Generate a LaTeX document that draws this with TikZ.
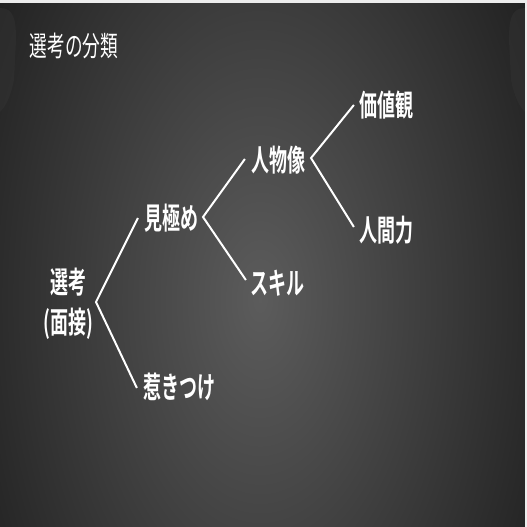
\documentclass[tikz,border=0pt]{standalone}
\usepackage{fontspec}
\newfontfamily\jpb{Noto Sans CJK JP Bold}
\newfontfamily\jpr{Noto Sans CJK JP}
\begin{document}
\begin{tikzpicture}[x=1pt,y=-1pt,
  lbl/.style={text=white,font=\jpb\fontsize{30}{32}\selectfont,inner sep=0pt,transform shape,xscale=0.6},
  conn/.style={draw=white,line width=2pt}]
\useasboundingbox (0,0) rectangle (527,527);
\begin{scope}
\clip (0,0) rectangle (527,527);
\shade[inner color=white!36!black,outer color=white!13!black] (-60,-260) rectangle (580,860);
\end{scope}
\fill[white!20!black,opacity=0.5] (0,8) .. controls (14,8) and (16,20) .. (16,40) -- (14,80) .. controls (10,100) and (4,108) .. (0,112) -- cycle;
\fill[white!20!black,opacity=0.5] (525,8) .. controls (511,8) and (509,20) .. (509,40) -- (511,80) .. controls (515,100) and (521,108) .. (525,112) -- cycle;
\fill[white!93!black] (0,0) rectangle (527,3);
\fill[white!93!black] (525,0) rectangle (527,527);
\node[lbl,font=\jpr\fontsize{28}{30}\selectfont,xscale=0.63/0.6] (title) at (74,46) {選考の分類};
\node[lbl,align=center,font=\jpb\fontsize{30}{40}\selectfont] (root) at (68,304) {選考\\(面接)};
\node[lbl] (mi) at (171,218) {見極め};
\node[lbl] (hi) at (179,387) {惹きつけ};
\node[lbl] (jin) at (278,160) {人物像};
\node[lbl] (sk) at (277,283) {スキル};
\node[lbl] (ka) at (386,105) {価値観};
\node[lbl] (ni) at (386,230) {人間力};
\coordinate (v1) at (96,302);
\coordinate (v2) at (203,217);
\coordinate (v3) at (311,158);
\draw[conn] ([xshift=-6pt]mi.west) -- (v1) -- ([xshift=-6pt,yshift=-1pt]hi.west);
\draw[conn] ([xshift=-6pt,yshift=1pt]jin.west) -- (v2) -- ([xshift=-4pt,yshift=3pt]sk.west);
\draw[conn] ([xshift=-5pt]ka.west) -- (v3) -- ([xshift=-5pt,yshift=3pt]ni.west);
\end{tikzpicture}
\end{document}
